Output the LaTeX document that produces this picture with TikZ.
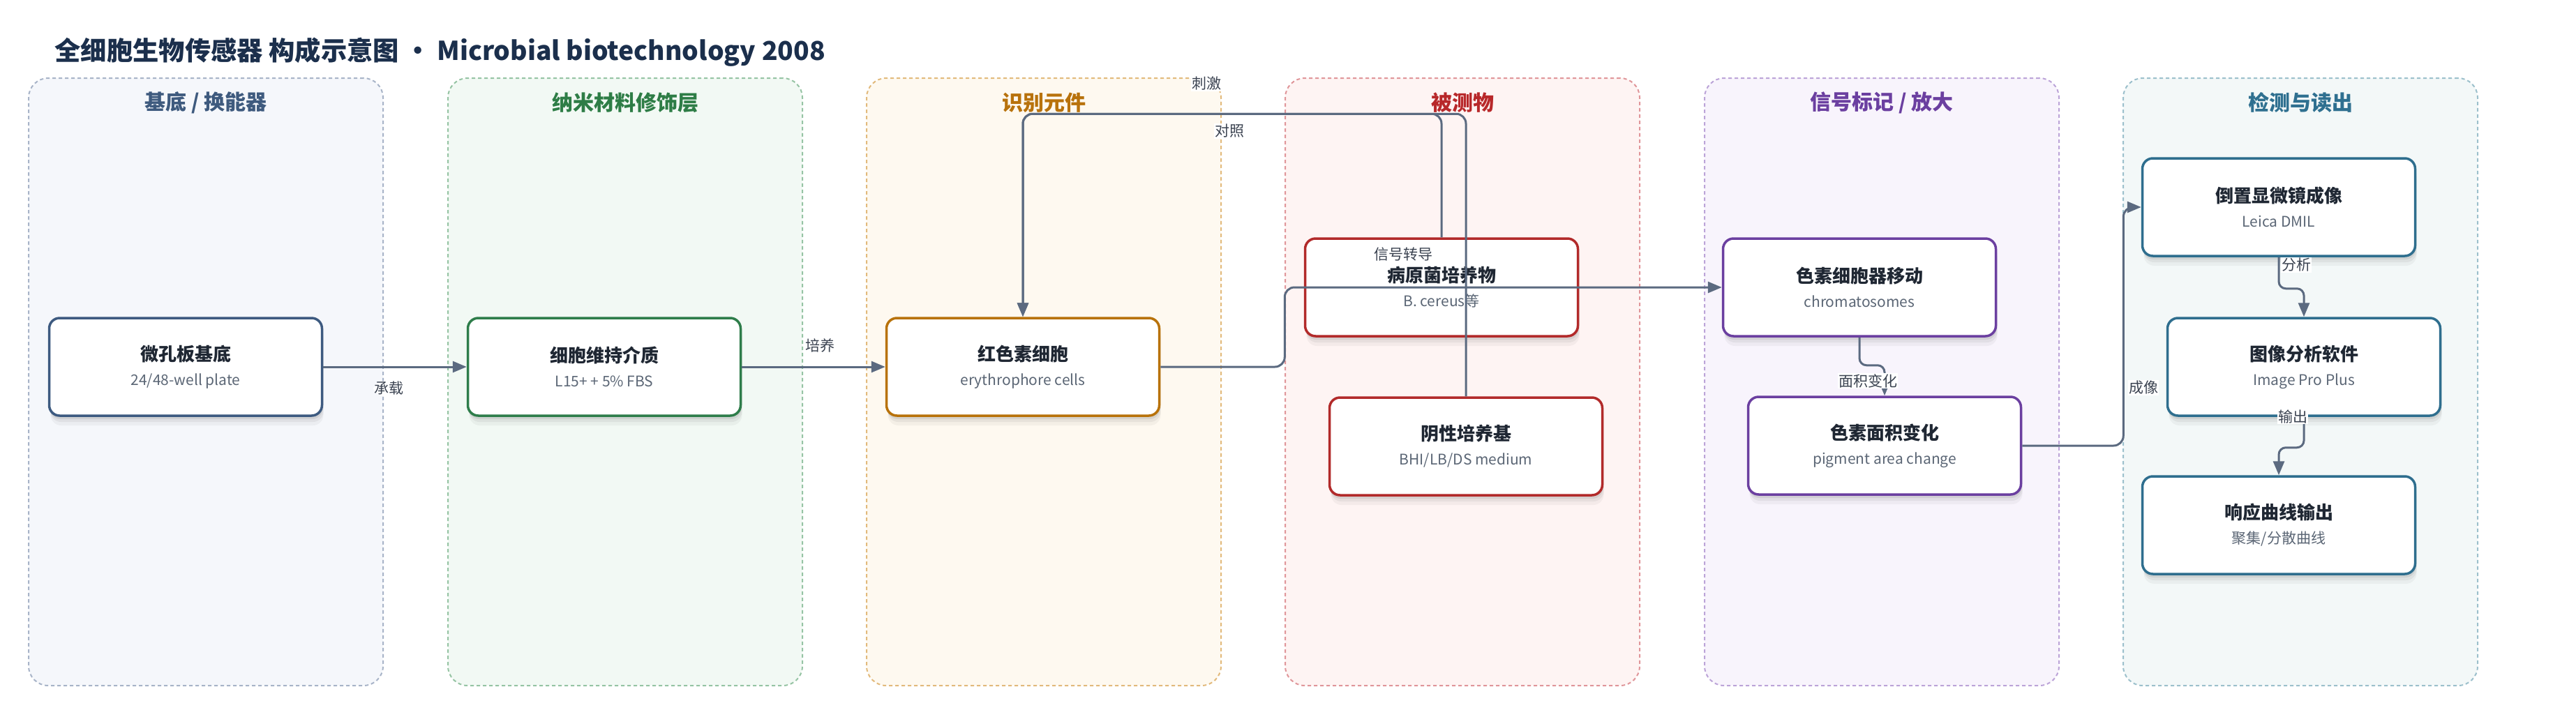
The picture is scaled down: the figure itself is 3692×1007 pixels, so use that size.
\documentclass[tikz,border=0pt]{standalone}
\usepackage{fontspec}
\setmainfont{Noto Sans CJK SC}
\usetikzlibrary{arrows.meta,shadows}
\definecolor{titlec}{HTML}{1B2F4C}
\definecolor{edgec}{HTML}{5B6A80}
\definecolor{lblc}{HTML}{3A4250}
\definecolor{ntc}{HTML}{1F2733}
\definecolor{nsc}{HTML}{5B6675}
% panel colours
\definecolor{pAf}{HTML}{F5F7FB}\definecolor{pAd}{HTML}{A8B4C8}\definecolor{pAh}{HTML}{3E5A7E}
\definecolor{pBf}{HTML}{F2F9F4}\definecolor{pBd}{HTML}{96C4A4}\definecolor{pBh}{HTML}{2E7D46}
\definecolor{pCf}{HTML}{FEF9F0}\definecolor{pCd}{HTML}{E2BA7C}\definecolor{pCh}{HTML}{B8720C}
\definecolor{pDf}{HTML}{FEF4F3}\definecolor{pDd}{HTML}{E0969A}\definecolor{pDh}{HTML}{B8282A}
\definecolor{pEf}{HTML}{F8F4FC}\definecolor{pEd}{HTML}{BCA4D8}\definecolor{pEh}{HTML}{6B3FA0}
\definecolor{pFf}{HTML}{F3F8F8}\definecolor{pFd}{HTML}{9CC0CC}\definecolor{pFh}{HTML}{2F7090}
% node border colours
\definecolor{nA}{HTML}{3D5A80}
\definecolor{nB}{HTML}{2E7D4A}
\definecolor{nC}{HTML}{B8720A}
\definecolor{nD}{HTML}{B22A2A}
\definecolor{nE}{HTML}{6B3FA0}
\definecolor{nF}{HTML}{2E6E8E}
\newcommand{\nodetitle}[1]{{\fontsize{26}{34}\selectfont\bfseries\color{ntc}#1}}
\newcommand{\nodesub}[1]{{\fontsize{21}{35}\selectfont\color{nsc}#1}}
\begin{document}
\begin{tikzpicture}[x=1pt,y=-1pt,
  panel/.style={draw=#1, dash pattern=on 5pt off 4pt, line width=2pt, rounded corners=28pt,
    minimum width=508pt, minimum height=871pt, inner sep=0pt},
  phead/.style={text=#1, font=\fontsize{30}{34}\selectfont\bfseries},
  box/.style={draw=#1, fill=white, line width=3.5pt, rounded corners=15pt,
    minimum width=391pt, minimum height=140pt, align=center, inner sep=0pt,
    font=\fontsize{21}{35}\selectfont,
    general shadow={fill=black, opacity=0.04, shadow yshift=-14pt, shadow xshift=2pt},
    general shadow={fill=black, opacity=0.05, shadow yshift=-9pt, shadow xshift=2pt},
    general shadow={fill=black, opacity=0.07, shadow yshift=-5pt, shadow xshift=1pt}},
  conn/.style={draw=edgec, line width=3pt, rounded corners=14pt,
    -{Triangle[length=20pt,width=16pt]}},
  lbl/.style={fill=white, text=lblc, font=\fontsize{21}{24}\selectfont, inner sep=1pt}]
\useasboundingbox[fill=white] (0,0) rectangle (3692,1007);

\node[anchor=west, text=titlec, font=\fontsize{37.3}{44}\selectfont\bfseries] (title) at (75,75)
  {全细胞生物传感器 构成示意图 • Microbial biotechnology 2008};

% panels
\node[panel=pAd, fill=pAf] (pA) at (295,547.5) {};
\node[panel=pBd, fill=pBf] (pB) at (896,547.5) {};
\node[panel=pCd, fill=pCf] (pC) at (1496,547.5) {};
\node[panel=pDd, fill=pDf] (pD) at (2096,547.5) {};
\node[panel=pEd, fill=pEf] (pE) at (2697,547.5) {};
\node[panel=pFd, fill=pFf] (pF) at (3297,547.5) {};
\node[phead=pAh] (hA) at (295,147) {基底 / 换能器};
\node[phead=pBh] (hB) at (896,147) {纳米材料修饰层};
\node[phead=pCh] (hC) at (1496,147) {识别元件};
\node[phead=pDh] (hD) at (2096,147) {被测物};
\node[phead=pEh] (hE) at (2697,147) {信号标记 / 放大};
\node[phead=pFh] (hF) at (3297,147) {检测与读出};

% nodes
\node[box=nA] (n1) at (266,526) {\nodetitle{微孔板基底}\\\nodesub{24/48-well plate}};
\node[box=nB] (n2) at (866,526) {\nodetitle{细胞维持介质}\\\nodesub{L15+ + 5\% FBS}};
\node[box=nC] (n3) at (1466,526) {\nodetitle{红色素细胞}\\\nodesub{erythrophore cells}};
\node[box=nD] (n4a) at (2066,412) {\nodetitle{病原菌培养物}\\\nodesub{B. cereus等}};
\node[box=nD] (n4b) at (2101,640) {\nodetitle{阴性培养基}\\\nodesub{BHI/LB/DS medium}};
\node[box=nE] (n5a) at (2665,412) {\nodetitle{色素细胞器移动}\\\nodesub{chromatosomes}};
\node[box=nE] (n5b) at (2701,639) {\nodetitle{色素面积变化}\\\nodesub{pigment area change}};
\node[box=nF] (n6a) at (3266,297) {\nodetitle{倒置显微镜成像}\\\nodesub{Leica DMIL}};
\node[box=nF] (n6b) at (3302,526) {\nodetitle{图像分析软件}\\\nodesub{Image Pro Plus}};
\node[box=nF] (n6c) at (3266,753) {\nodetitle{响应曲线输出}\\\nodesub{聚集/分散曲线}};

% connectors
\draw[conn] (n1.east) -- (n2.west) node[lbl, midway, xshift=-9pt, yshift=-31pt] (l1) {承载};
\draw[conn] (n2.east) -- (n3.west) node[lbl, midway, xshift=9pt, yshift=31pt] (l2) {培养};
\draw[conn] (n3.east) -- ++(178,0) |- (n5a.west);
\node[lbl, fill=none] (l3) at (2011,365) {信号转导};
\draw[conn] (n4a.north) -- ++(0,-177) -| (n3.north);
\draw[conn] (n4b.north) -- ++(0,-405) -| (n3.north);
\node[lbl] (l4) at (1729,120) {刺激};
\node[lbl] (l5) at (1762,188) {对照};
\draw[conn, rounded corners=10pt] (n5a.south) -- ++(0,40) -| (n5b.north);
\node[lbl] (l6) at (2677,546) {面积变化};
\draw[conn] (n5b.east) -- ++(145,0) |- (n6a.west);
\node[lbl] (l7) at (3072,556) {成像};
\draw[conn, rounded corners=10pt] (n6a.south) -- ++(0,45) -| (n6b.north);
\node[lbl] (l8) at (3291,380) {分析};
\draw[conn, rounded corners=10pt] (n6b.south) -- ++(0,44) -| (n6c.north);
\node[lbl] (l9) at (3286,597) {输出};
\end{tikzpicture}
\end{document}
